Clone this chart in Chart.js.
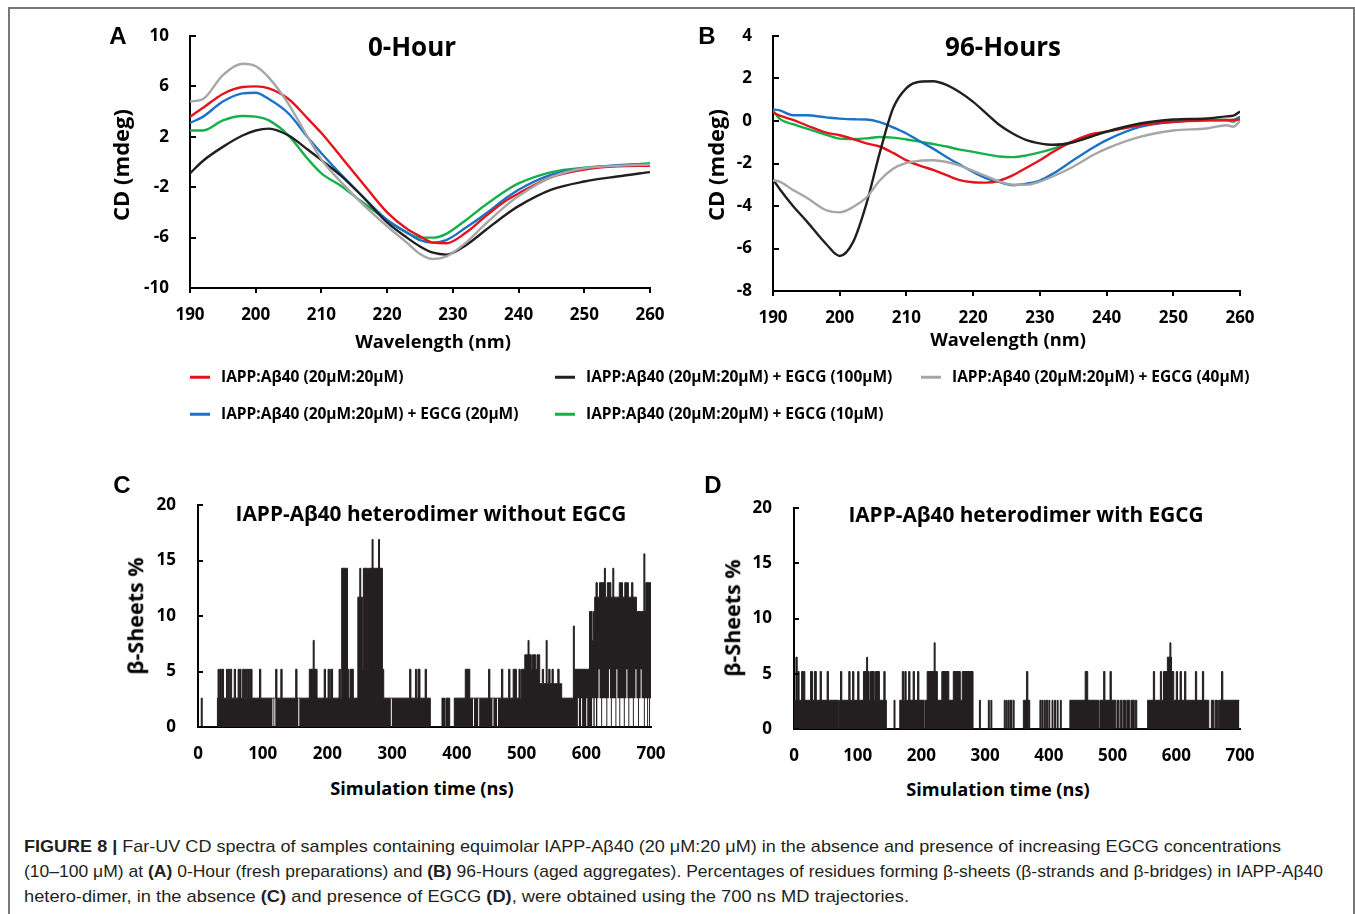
<!DOCTYPE html>
<html><head><meta charset="utf-8">
<script src="https://cdn.jsdelivr.net/npm/chart.js@4.4.1/dist/chart.umd.min.js"></script>
<style>
html,body{margin:0;padding:0}
body{width:1355px;height:914px;background:#fff;position:relative;overflow:hidden;font-family:"Open Sans",sans-serif;color:#000}
.frame{position:absolute;left:8px;top:7px;width:1347px;height:930px;border:2px solid #777;border-bottom:none;box-sizing:border-box}
.cw{position:absolute}
.t{position:absolute;white-space:nowrap;font-weight:700;transform:translate(-50%,-50%);line-height:1}
.rot{transform:translate(-50%,-50%) rotate(-90deg)}
.let{font-family:"Liberation Sans",Arial,sans-serif;font-size:24px}
.leg{position:absolute;white-space:nowrap;font-weight:700;font-size:15.5px;line-height:1;transform:translateY(-50%)}
.lm{position:absolute;width:20px;height:2.5px;transform:translateY(-50%)}
.cap{position:absolute;left:24px;white-space:nowrap;font-family:"Liberation Sans",Arial,sans-serif;font-size:17px;color:#231f20;transform-origin:0 50%;line-height:1}
.cap b{font-weight:700}
</style>
</head><body>
<div class="frame"></div>

<div class="cw" style="left:100px;top:20px;width:570px;height:310px"><canvas id="cA"></canvas></div>
<div class="cw" style="left:683px;top:20px;width:577px;height:310px"><canvas id="cB"></canvas></div>
<div class="cw" style="left:108px;top:490px;width:563px;height:280px"><canvas id="cC"></canvas></div>
<div class="cw" style="left:704px;top:490px;width:556px;height:280px"><canvas id="cD"></canvas></div>

<div class="t let" style="left:118px;top:36px">A</div>
<div class="t" style="left:412px;top:46px;font-size:26px">0-Hour</div>
<div class="t rot" style="left:120px;top:165px;font-size:22px">CD (mdeg)</div>
<div class="t" style="left:433px;top:341px;font-size:18.3px">Wavelength (nm)</div>

<div class="t let" style="left:707px;top:36px">B</div>
<div class="t" style="left:1003px;top:46px;font-size:26px">96-Hours</div>
<div class="t rot" style="left:715px;top:165px;font-size:22px">CD (mdeg)</div>
<div class="t" style="left:1008px;top:339px;font-size:18.3px">Wavelength (nm)</div>

<div class="t let" style="left:122px;top:485px">C</div>
<div class="t" style="left:431px;top:513px;font-size:20.8px">IAPP-Aβ40 heterodimer without EGCG</div>
<div class="t rot" style="left:135px;top:616px;font-size:21.5px">β-Sheets %</div>
<div class="t" style="left:422px;top:788px;font-size:18.2px">Simulation time (ns)</div>

<div class="t let" style="left:713px;top:485px">D</div>
<div class="t" style="left:1026px;top:514px;font-size:20.8px">IAPP-Aβ40 heterodimer with EGCG</div>
<div class="t rot" style="left:732px;top:618px;font-size:21.5px">β-Sheets %</div>
<div class="t" style="left:998px;top:789px;font-size:18.2px">Simulation time (ns)</div>

<div id="legend"></div>

<div class="cap" id="cap1" style="top:846px"><b>FIGURE 8 |</b> Far-UV CD spectra of samples containing equimolar IAPP-Aβ40 (20 μM:20 μM) in the absence and presence of increasing EGCG concentrations</div>
<div class="cap" id="cap2" style="top:871px">(10–100 μM) at <b>(A)</b> 0-Hour (fresh preparations) and <b>(B)</b> 96-Hours (aged aggregates). Percentages of residues forming β-sheets (β-strands and β-bridges) in IAPP-Aβ40</div>
<div class="cap" id="cap3" style="top:896px">hetero-dimer, in the absence <b>(C)</b> and presence of EGCG <b>(D)</b>, were obtained using the 700 ns MD trajectories.</div>

<script>
// ---------- DATA ----------
const seriesNames = [
  "IAPP:Aβ40 (20μM:20μM)",
  "IAPP:Aβ40 (20μM:20μM) + EGCG (100μM)",
  "IAPP:Aβ40 (20μM:20μM) + EGCG (40μM)",
  "IAPP:Aβ40 (20μM:20μM) + EGCG (20μM)",
  "IAPP:Aβ40 (20μM:20μM) + EGCG (10μM)"
];
const seriesColors = ["#e3141b", "#231f20", "#a6a6a6", "#1a73c8", "#14b04a"];

// Panel A (0-Hour)
const wlA = [190,192,195,198,200,202,205,208,210,213,216,220,223,225,227,229,232,235,238,240,245,250,255,260];
const a_ctrl   = [3.6,4.3,5.4,5.95,6.0,5.85,5.0,3.4,2.3,0.4,-1.5,-4.0,-5.3,-5.9,-6.4,-6.45,-5.6,-4.3,-3.1,-2.5,-1.2,-0.6,-0.35,-0.3];
const a_e100   = [-0.9,0.1,1.2,2.1,2.5,2.65,2.1,0.95,0.15,-1.1,-2.6,-4.8,-6.0,-6.7,-7.2,-7.35,-6.6,-5.4,-4.2,-3.5,-2.2,-1.55,-1.15,-0.8];
const a_e40    = [4.8,5.0,6.9,7.8,7.6,6.7,4.6,1.9,0.2,-1.6,-3.2,-5.1,-6.4,-7.3,-7.7,-7.5,-6.4,-4.9,-3.5,-2.7,-1.2,-0.5,-0.3,-0.2];
const a_e20    = [3.1,3.6,4.8,5.45,5.5,5.0,3.85,1.9,0.7,-1.0,-2.6,-4.6,-5.6,-6.2,-6.4,-6.2,-5.2,-4.1,-2.9,-2.2,-1.0,-0.5,-0.25,-0.15];
const a_e10    = [2.5,2.5,3.3,3.65,3.6,3.3,2.1,0.2,-0.9,-1.9,-3.1,-4.6,-5.6,-6.0,-6.0,-5.7,-4.6,-3.4,-2.3,-1.7,-0.8,-0.45,-0.3,-0.1];

// Panel B (96-Hours)
const wlB = [190,191,193,195,198,200,202,204,206,208,210,212,214,216,218,220,222,224,226,228,230,232,235,238,240,245,250,255,258,259,260];
const b_ctrl = [0.4,0.25,0.05,-0.2,-0.55,-0.67,-0.85,-1.05,-1.2,-1.5,-1.85,-2.1,-2.3,-2.55,-2.78,-2.88,-2.9,-2.8,-2.55,-2.2,-1.85,-1.45,-0.95,-0.6,-0.5,-0.2,-0.05,0.03,0.05,0.05,0.06];
const b_e100 = [-2.75,-3.2,-4.0,-4.7,-5.8,-6.35,-5.7,-3.9,-1.5,0.6,1.55,1.85,1.87,1.7,1.35,0.9,0.35,-0.2,-0.6,-0.9,-1.05,-1.12,-1.0,-0.7,-0.5,-0.12,0.07,0.12,0.22,0.25,0.45];
const b_e40  = [-2.8,-2.85,-3.25,-3.6,-4.2,-4.3,-4.05,-3.6,-2.8,-2.25,-1.97,-1.87,-1.85,-1.93,-2.1,-2.35,-2.6,-2.85,-3.0,-3.0,-2.85,-2.6,-2.15,-1.6,-1.3,-0.75,-0.45,-0.35,-0.2,-0.27,0.0];
const b_e20  = [0.55,0.5,0.27,0.27,0.17,0.11,0.08,0.07,-0.05,-0.3,-0.59,-0.95,-1.3,-1.69,-2.05,-2.4,-2.7,-2.88,-3.02,-2.95,-2.8,-2.47,-1.85,-1.25,-0.9,-0.28,-0.04,0.03,0.03,0.05,0.2];
const b_e10  = [0.5,0.1,-0.15,-0.35,-0.65,-0.83,-0.85,-0.82,-0.75,-0.78,-0.87,-0.97,-1.08,-1.2,-1.35,-1.45,-1.57,-1.67,-1.7,-1.62,-1.48,-1.3,-0.98,-0.7,-0.51,-0.2,-0.01,0.07,0.05,-0.03,0.19];

// Tick labels
const wlTicks = [190,200,210,220,230,240,250,260];
const cdTicksA = [-10,-6,-2,2,6,10];
const cdTicksB = [-8,-6,-4,-2,0,2,4];
const timeTicks = [0,100,200,300,400,500,600,700];
const sheetTicks = [0,5,10,15,20];

// Panel C: dense β-sheet % trace summarised as [time ns, min %, max %] (holds until next time)
const cSteps = [[0,0,0],[5,0,2.6],[6.5,0,0],[30,0,2.6],
[31,0,5.2],[33,0,2.6],[34,0,5.2],[36,0,2.6],[37,0,5.2],[39.5,0,2.6],
[44,0,5.2],[46,0,2.6],[47,0,5.2],[49,0,2.6],[50,0,5.2],[52,0,2.6],
[56,0,5.2],[58,0,2.6],[62,0,5.2],[64,0,2.6],[65,0,5.2],[66.5,0,2.6],
[69,0,5.2],[71,0,2.6],[72,0,5.2],[73.5,0,2.6],[75,0,5.2],[77,0,2.6],[78,0,5.2],[80,0,2.6],[81,0,5.2],[83.5,0,2.6],
[95,0,5.2],[97,0,2.6],[115,2.6,2.6],[116.5,0,2.6],[118,2.6,2.6],[119.5,0,2.6],[120,0,5.2],[122,0,2.6],
[128,0,5.2],[130,0,2.6],[151,0,5.2],[153,0,2.6],[155,2.6,2.6],[156.5,0,2.6],
[172,0,5.2],[178,0,7.8],[179.5,0,5.2],[184,0,2.6],[195,0,5.2],[197,0,2.6],
[201,0,5.2],[203,0,2.6],[205,0,5.2],[208,0,2.6],[218,0,5.2],[220,0,2.6],
[222,0,14.3],[231,0,5.2],[233,0,2.6],[235,0,5.2],[240,0,2.6],
[247,0,11.7],[250,0,14.3],[251.5,0,11.7],[254,0,5.2],[255.5,0,14.3],[262,0,5.2],[263.5,0,14.3],[269,0,16.9],[270.5,0,14.3],[279,0,16.9],[280.5,0,14.3],[285,0,5.2],[287,0,2.6],
[298,2.6,2.6],[299.5,0,2.6],[327,0,5.2],[329,0,2.6],[336,0,5.2],[338,0,2.6],[340,0,5.2],[343,0,2.6],[351,0,5.2],[353,0,2.6],
[359,0,0],[377,0,2.6],[381,0,0],[383,0,2.6],[389,0,0],[396,0,2.6],
[413,0,5.2],[420,0,2.6],[425,2.6,2.6],[426.5,0,2.6],[433,2.6,2.6],[434.5,0,2.6],
[449,0,5.2],[451,0,2.6],[455,2.6,2.6],[456.5,0,2.6],[462,2.6,2.6],[463.5,0,2.6],
[469,0,5.2],[471,0,2.6],[480,0,5.2],[482,0,2.6],[487,0,5.2],[492,0,2.6],[496,0,5.2],[498,0,2.6],
[500,0,5.2],[505,0,6.5],[510,0,7.8],[511.5,0,6.5],[515,0,5.2],[516.5,0,6.5],[522,0,5.2],[524,0,6.5],
[528,0,3.9],[532,0,5.2],[534,0,3.9],[538,0,7.8],[539.5,0,3.9],[542,0,5.2],[544,0,3.9],[547,0,5.2],[549,0,3.9],[556,0,5.2],[558,0,3.9],[562,0,2.6],
[580,0,9.1],[581.5,0,5.2],[587,2.6,5.2],[588.5,0,5.2],[592,2.6,5.2],[593.5,0,5.2],[600,2.6,5.2],[601.5,0,5.2],
[605,0,10.4],[609,2.6,7.8],[611,0,10.4],[613,2.6,11.7],[615,0,13],[617,2.6,11.7],[619,5.2,11.7],[620.5,2.6,13],[623,0,13],[624.5,2.6,13],
[628,2.6,14.3],[629.5,2.6,11.7],[631,0,11.7],[632.5,2.6,13],[635,5.2,13],[636.5,2.6,13],[638,0,11.7],[639.5,2.6,11.7],
[641,2.6,14.3],[642.5,2.6,11.7],[645,0,11.7],[646.5,5.2,11.7],[648,2.6,11.7],[651,0,13],[652.5,2.6,13],[656,2.6,11.7],[658,0,11.7],[659.5,2.6,13],
[662,5.2,13],[663.5,2.6,13],[665,0,11.7],[666.5,2.6,11.7],[670,2.6,13],[672,0,11.7],[673.5,2.6,11.7],[676,5.2,11.7],[677.5,2.6,10.4],
[680,0,10.4],[681.5,2.6,10.4],[684,5.2,10.4],[685.5,2.6,10.4],[689,0,15.6],[690.5,2.6,10.4],[692,2.6,13],[694,0,13],[695.5,2.6,13],[697,0,13],[698.5,2.6,13],[700,2.6,13]];

// Panel D: [time ns, min %, max %]
const dSteps = [[0,0,2.6],[3,0,6.5],[5,0,2.6],[6,0,5.2],[8,0,2.6],[12,0,5.2],[14,0,2.6],[15,0,5.2],[17,0,2.6],
[26,0,5.2],[29,0,2.6],[32,0,5.2],[35,0,2.6],[41,0,5.2],[43,0,2.6],[52,0,5.2],[54,0,2.6],
[70,0,0],[71.5,0,2.6],[73,0,5.2],[75,0,2.6],[86,0,5.2],[88,0,2.6],[92,0,5.2],[94,0,2.6],[100,0,5.2],[102,0,2.6],
[109,0,5.2],[114,0,6.5],[115.5,0,5.2],[118,0,2.6],[120,0,5.2],[126,0,2.6],[128,0,5.2],[134,0,2.6],[141,0,5.2],[143,0,2.6],
[145,0,0],[157,0,2.6],[158.5,0,0],[166,0,2.6],[170,0,5.2],[172,0,2.6],[174,0,5.2],[176,0,2.6],[180,0,5.2],[182,0,2.6],
[187,0,5.2],[189,0,2.6],[194,0,5.2],[196,0,2.6],[204,0,0],[205.5,0,2.6],
[209,0,5.2],[220,0,7.8],[221.5,0,5.2],[225,0,2.6],[232,0,5.2],[243,0,2.6],[250,0,5.2],[261,0,2.6],[264,0,5.2],
[281,0,0],[291,0,2.6],[292.5,0,0],[305,0,2.6],[306.5,0,0],[309,0,2.6],[310.5,0,0],
[330,0,2.6],[331.5,0,0],[333,0,2.6],[334.5,0,0],[336,0,2.6],[337.5,0,0],[339,0,2.6],[342,0,0],[344,0,2.6],[345.5,0,0],
[360,0,2.6],[365,0,5.2],[367,0,2.6],[370,0,0],
[386,0,2.6],[387.5,0,0],[389,0,2.6],[391,0,0],[393,0,2.6],[394.5,0,0],[396,0,2.6],[398,0,0],[400,0,2.6],[401.5,0,0],
[405,0,2.6],[406.5,0,0],[409,0,2.6],[410.5,0,0],[413,0,2.6],[414.5,0,0],[418,0,2.6],[419.5,0,0],
[433,0,2.6],[457,0,5.2],[461,0,2.6],[478,0,0],[480,0,2.6],[486,0,5.2],[488,0,2.6],[496,0,5.2],[498,0,2.6],
[505,0,0],[507,0,2.6],[510,0,0],[512,0,2.6],[515,0,0],[517,0,2.6],[521,0,0],[522.5,0,2.6],[527,0,0],[529,0,2.6],[534,0,0],[535.5,0,2.6],[538,0,0],
[555,0,2.6],[564,0,5.2],[566,0,2.6],[575,0,5.2],[577,0,2.6],[580,0,5.2],[586,0,6.5],[590,0,7.8],[591.5,0,6.5],[592.5,0,5.2],[596,0,2.6],
[600,0,5.2],[602,0,2.6],[606,0,5.2],[608,0,2.6],[613,0,5.2],[615,0,2.6],[630,0,5.2],[632,0,2.6],[641,0,5.2],[643,0,2.6],
[651,0,0],[655,0,2.6],[659,0,0],[661,0,2.6],[665,0,0],[666.5,0,2.6],[671,0,5.2],[673,0,2.6],[699,0,2.6]];

// ---------- RENDER ----------
const FONT = "'Open Sans', sans-serif";
const INK = '#231f20';
const tickPlugin = {
  id: 'axTicks',
  afterDraw(chart, args, o) {
    const {ctx, chartArea: a, scales: {x, y}} = chart;
    ctx.save(); ctx.strokeStyle = '#000'; ctx.lineWidth = o.w || 2;
    if (o.yIn) y.ticks.forEach(t => { const p = Math.round(y.getPixelForValue(t.value)); ctx.beginPath(); ctx.moveTo(a.left, p); ctx.lineTo(a.left + o.yIn, p); ctx.stroke(); });
    if (o.xOut) x.ticks.forEach(t => { const p = Math.round(x.getPixelForValue(t.value)); ctx.beginPath(); ctx.moveTo(p, a.bottom); ctx.lineTo(p, a.bottom + o.xOut); ctx.stroke(); });
    ctx.restore();
  }
};

function axis(min, max, ticks, fitKey, fitVal, pad) {
  return {
    type: 'linear', min, max,
    afterBuildTicks: s => { s.ticks = ticks.map(v => ({value: v})); },
    afterFit: s => {
      s[fitKey] = fitVal;
      s.paddingTop = 0; s.paddingBottom = 0; s.paddingLeft = 0; s.paddingRight = 0;
    },
    grid: {display: true, drawOnChartArea: false, drawTicks: false},
    border: {display: true, color: '#000', width: 2},
    ticks: {color: '#000', padding: pad, font: {family: FONT, weight: 'bold', size: 17}, callback: v => String(v)}
  };
}

function cdChart(id, wl, series, yMin, yMax, yTicks, pad, xH, xPad) {
  const datasets = series.map((vals, i) => ({
    label: seriesNames[i],
    data: wl.map((w, k) => ({x: w, y: vals[k]})),
    borderColor: seriesColors[i], borderWidth: 2.4, pointRadius: 0,
    cubicInterpolationMode: 'monotone', fill: false
  }));
  const order = [2, 1, 0, 3, 4];
  return new Chart(document.getElementById(id), {
    type: 'line',
    data: {datasets: order.map(i => datasets[i])},
    options: {
      responsive: true, maintainAspectRatio: false, animation: false,
      layout: {padding: pad, autoPadding: false},
      plugins: {legend: {display: false}, tooltip: {enabled: false}, axTicks: {yIn: 6, xOut: 5}},
      scales: {
        x: axis(190, 260, wlTicks, 'height', xH, xPad),
        y: axis(yMin, yMax, yTicks, 'width', 90, 21)
      }
    },
    plugins: [tickPlugin]
  });
}

function stepChart(id, steps, pad, xH, xPad) {
  return new Chart(document.getElementById(id), {
    type: 'line',
    data: {datasets: [
      {data: steps.map(p => ({x: p[0], y: p[2]})), stepped: true, borderWidth: 1, borderColor: INK,
       pointRadius: 0, fill: '+1', backgroundColor: INK},
      {data: steps.map(p => ({x: p[0], y: p[1]})), stepped: true, borderWidth: 0, borderColor: 'rgba(0,0,0,0)',
       pointRadius: 0, fill: false}
    ]},
    options: {
      responsive: true, maintainAspectRatio: false, animation: false,
      layout: {padding: pad, autoPadding: false},
      plugins: {legend: {display: false}, tooltip: {enabled: false}, axTicks: {yIn: 5}},
      scales: {
        x: axis(0, 700, timeTicks, 'height', xH, xPad),
        y: axis(0, 20, sheetTicks, 'width', 90, 22)
      }
    },
    plugins: [tickPlugin]
  });
}

cdChart('cA', wlA, [a_ctrl, a_e100, a_e40, a_e20, a_e10], -10, 10, cdTicksA, {left: 0, top: 16, right: 20, bottom: 0}, 42, 17);
cdChart('cB', wlB, [b_ctrl, b_e100, b_e40, b_e20, b_e10], -8, 4, cdTicksB, {left: 0, top: 16, right: 20, bottom: 0}, 39, 17);
stepChart('cC', cSteps, {left: 0, top: 15, right: 20, bottom: 0}, 43, 17);
stepChart('cD', dSteps, {left: 0, top: 18, right: 20, bottom: 0}, 41, 17);

// Legend (shared)
const legPos = [[190, 377], [555, 377], [921, 377], [190, 414], [555, 414]];
const legEl = document.getElementById('legend');
seriesNames.forEach((n, i) => {
  const m = document.createElement('div'); m.className = 'lm';
  m.style.left = legPos[i][0] + 'px'; m.style.top = legPos[i][1] + 'px'; m.style.background = seriesColors[i];
  const t = document.createElement('div'); t.className = 'leg'; t.textContent = n;
  t.style.left = (legPos[i][0] + 31) + 'px'; t.style.top = legPos[i][1] + 'px';
  legEl.appendChild(m); legEl.appendChild(t);
});

// Caption width fitting
[['cap1', 1257], ['cap2', 1299], ['cap3', 885]].forEach(([id, w]) => {
  const el = document.getElementById(id);
  const mw = el.getBoundingClientRect().width;
  el.style.transform = 'translateY(-50%) scaleX(' + (w / mw) + ')';
});
</script>
</body></html>
